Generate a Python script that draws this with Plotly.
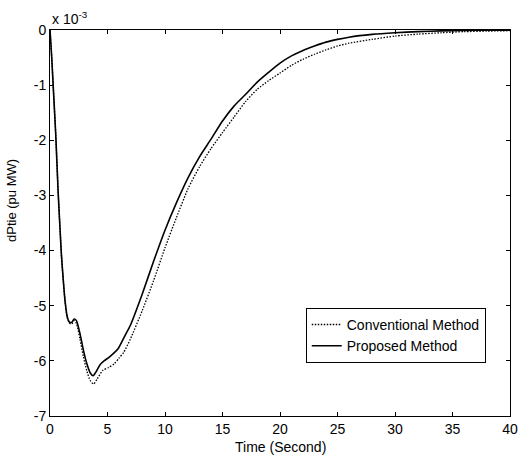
import plotly.graph_objects as go

# Data (values in units of 1e-3 pu MW)
t_prop = [0, 0.15, 0.3, 0.5, 0.7, 0.87, 1.0, 1.16, 1.3, 1.5, 1.7, 1.9, 2.1, 2.3, 2.6, 2.9, 3.2, 3.5, 3.75,
          4.0, 4.35, 4.7, 5.1, 5.5, 5.95, 6.5, 7.0, 8.0, 9.0, 10, 11, 12, 13, 14, 15, 16, 17, 18, 19, 20,
          21, 22, 23, 24, 25, 26, 28, 30, 32, 34, 36, 38, 40]
y_prop = [0, -0.5, -1.1, -1.9, -2.9, -3.6, -4.1, -4.55, -4.9, -5.2, -5.3, -5.3, -5.24, -5.27, -5.5, -5.8,
          -6.05, -6.22, -6.27, -6.2, -6.07, -6.0, -5.94, -5.87, -5.77, -5.55, -5.35, -4.8, -4.2, -3.63,
          -3.13, -2.68, -2.3, -1.98, -1.65, -1.38, -1.17, -0.95, -0.77, -0.6, -0.47, -0.37, -0.29, -0.22,
          -0.17, -0.13, -0.08, -0.05, -0.03, -0.015, -0.008, -0.004, -0.002]

t_conv = [0, 0.15, 0.3, 0.5, 0.7, 0.87, 1.0, 1.16, 1.3, 1.5, 1.7, 1.9, 2.1, 2.3, 2.6, 2.9, 3.2, 3.5, 3.8,
          4.1, 4.6, 5.1, 5.6, 6.0, 6.4, 7.0, 8.0, 9.0, 10, 11, 12, 13, 14, 15, 16, 17, 18, 19, 20, 21,
          22, 23, 24, 25, 26, 28, 30, 32, 34, 36, 38, 40]
y_conv = [0, -0.5, -1.1, -1.9, -2.9, -3.6, -4.1, -4.55, -4.9, -5.22, -5.32, -5.33, -5.27, -5.32, -5.6,
          -5.92, -6.18, -6.36, -6.42, -6.33, -6.17, -6.12, -6.05, -5.95, -5.85, -5.6, -5.1, -4.55, -3.95,
          -3.4, -2.88, -2.48, -2.15, -1.86, -1.58, -1.3, -1.08, -0.92, -0.78, -0.64, -0.53, -0.44, -0.36,
          -0.29, -0.24, -0.17, -0.11, -0.075, -0.05, -0.03, -0.02, -0.012]

x_ticks = [0, 5, 10, 15, 20, 25, 30, 35, 40]
y_ticks = [0, -1, -2, -3, -4, -5, -6, -7]
y_ticktext = ["0", "-1", "-2", "-3", "-4", "-5", "-6", "-7"]

FONT = "Arial, Liberation Sans, sans-serif"

fig = go.Figure()
fig.add_trace(go.Scatter(x=t_conv, y=y_conv, mode="lines", name="Conventional Method",
                         line=dict(color="black", width=1.3, dash="1.5px,1.5px", shape="spline", smoothing=0.6)))
fig.add_trace(go.Scatter(x=t_prop, y=y_prop, mode="lines", name="Proposed Method",
                         line=dict(color="black", width=1.6, shape="spline", smoothing=0.6)))

axis_common = dict(showgrid=False, zeroline=False, showline=True, linecolor="black", linewidth=1,
                   mirror="ticks", ticks="inside", ticklen=4, tickcolor="black", tickwidth=1,
                   automargin=False,
                   tickfont=dict(family=FONT, size=14, color="black"))

fig.update_layout(
    width=523, height=457,
    margin=dict(l=50, r=13, t=30, b=41),
    paper_bgcolor="white", plot_bgcolor="white",
    font=dict(family=FONT, size=14, color="black"),
    xaxis=dict(range=[0, 40], tickvals=x_ticks, **axis_common),
    yaxis=dict(range=[-7, 0], tickvals=y_ticks, ticktext=y_ticktext, **axis_common),
    legend=dict(x=0.556, y=0.28, xanchor="left", yanchor="top", bgcolor="white",
                bordercolor="black", borderwidth=1, font=dict(size=14),
                tracegroupgap=0, itemwidth=30),
    showlegend=True,
)
fig.add_annotation(text="x 10<sup>-3</sup>", xref="paper", yref="paper", x=0, y=1,
                   xanchor="left", yanchor="bottom", showarrow=False, yshift=1,
                   font=dict(size=14, family=FONT))
fig.add_annotation(text="Time (Second)", xref="paper", yref="paper", x=0.5, y=-0.0803,
                   xanchor="center", yanchor="middle", showarrow=False,
                   font=dict(size=14, family=FONT))
fig.add_annotation(text="dPtie (pu MW)", xref="paper", yref="paper", x=-0.0826, y=0.557,
                   xanchor="center", yanchor="middle", showarrow=False, textangle=-90,
                   font=dict(size=13, family=FONT))

fig.write_html("out.html")
